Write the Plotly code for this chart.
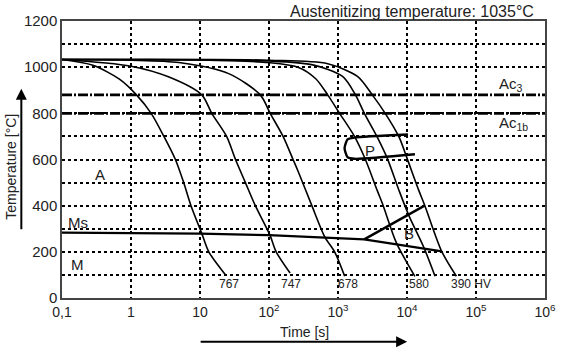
import numpy as np
import plotly.graph_objects as go

# ---- data ----
c767_t = [0.1, 0.28, 0.68, 1.2, 1.96, 3.0, 4.4, 5.8, 7.4, 10.6, 13.4, 23.5]
c767_T = [1033, 1008, 948, 880, 800, 700, 600, 500, 400, 280, 200, 100]

c747_t = [0.1, 1.0, 3.56, 10.6, 14.8, 24.3, 32.7, 45.5, 63.4, 104, 127, 202]
c747_T = [1033, 1004, 957, 880, 800, 700, 600, 500, 400, 270, 200, 108]

c678_t = [0.1, 1.0, 4.95, 26, 74.8, 104, 160, 223, 263, 418, 642, 893, 1250]
c678_T = [1033, 1030, 1020, 972, 880, 800, 700, 600, 550, 400, 265, 200, 94]

c580_t = [0.1, 10, 100, 263, 476, 709, 1055, 1733, 2495, 3710, 4520, 7000, 13000]
c580_T = [1033, 1031, 1020, 1000, 950, 880, 800, 700, 600, 465, 400, 240, 94]

c5_t = [0.1, 10, 100, 431, 1164, 1791, 2410, 3706, 5164, 7680, 10690, 17550, 25500]
c5_T = [1033, 1031, 1027, 1010, 960, 880, 800, 697, 606, 465, 356, 219, 94]

c390_t = [0.1, 100, 709, 1915, 3140, 4830, 7680, 10000, 14860, 18150, 31840, 52000]
c390_T = [1033, 1030, 1015, 960, 880, 800, 697, 606, 465, 400, 202, 94]

ms_t = [0.1, 10, 100, 1000, 2400]
ms_T = [283, 279, 272, 261, 254]

b_low_t = [2400, 32000]
b_low_T = [254, 202]
b_up_t = [2400, 18000]
b_up_T = [254, 400]

p_t = [10330, 1733, 1374, 1245, 1374, 1733, 13030]
p_T = [708, 695, 687, 649, 610, 603, 623]

ac3_T = 880
ac1b_T = 800
t_range = [0.1, 1e6]

x_tickvals = [0.1, 1, 10, 100, 1e3, 1e4, 1e5, 1e6]
x_ticktext = ["0,1", "1", "10", "10<sup>2</sup>", "10<sup>3</sup>",
              "10<sup>4</sup>", "10<sup>5</sup>", "10<sup>6</sup>"]
y_tickvals = list(range(0, 1201, 200))
y_minor_vals = [100, 300, 500, 700, 1100]

curve_labels = ["767", "747", "678", "580", "390 HV"]
curve_label_t = [26, 208, 1374, 14860, 85900]
curve_label_T = [62, 62, 62, 62, 62]

region_labels = ["A", "Ms", "M", "P", "B"]
region_t = [0.35, 0.17, 0.17, 2940, 10800]
region_T = [537, 327, 143, 640, 280]

FONT = "Arial, Liberation Sans, sans-serif"
TXT = "#222222"

fig = go.Figure()

for t, T in [(c767_t, c767_T), (c747_t, c747_T), (c678_t, c678_T),
             (c580_t, c580_T), (c5_t, c5_T), (c390_t, c390_T)]:
    fig.add_trace(go.Scatter(x=t, y=T, mode="lines",
                             line=dict(color="black", width=1.6, shape="spline", smoothing=0.8),
                             showlegend=False, hoverinfo="skip"))

for T in (ac3_T, ac1b_T):
    fig.add_trace(go.Scatter(x=t_range, y=[T, T], mode="lines",
                             line=dict(color="black", width=2.6, dash="10px,2px,2px,2px"),
                             showlegend=False))

fig.add_trace(go.Scatter(x=ms_t, y=ms_T, mode="lines",
                         line=dict(color="black", width=2.2), showlegend=False))
fig.add_trace(go.Scatter(x=b_low_t, y=b_low_T, mode="lines",
                         line=dict(color="black", width=2.4), showlegend=False))
fig.add_trace(go.Scatter(x=b_up_t, y=b_up_T, mode="lines",
                         line=dict(color="black", width=2.4), showlegend=False))
fig.add_trace(go.Scatter(x=p_t, y=p_T, mode="lines",
                         line=dict(color="black", width=2.4, shape="spline", smoothing=0.6),
                         showlegend=False))

annotations = []
for lab, t, T in zip(curve_labels, curve_label_t, curve_label_T):
    annotations.append(dict(x=np.log10(t), y=T, text=lab, showarrow=False,
                            font=dict(size=12, color=TXT, family=FONT)))
for lab, t, T in zip(region_labels, region_t, region_T):
    annotations.append(dict(x=np.log10(t), y=T, text=lab, showarrow=False,
                            font=dict(size=15, color=TXT, family=FONT)))
annotations.append(dict(x=np.log10(323000), y=923, text="Ac<sub>3</sub>", showarrow=False,
                        font=dict(size=15, color=TXT, family=FONT)))
annotations.append(dict(x=np.log10(345000), y=757, text="Ac<sub>1b</sub>", showarrow=False,
                        font=dict(size=15, color=TXT, family=FONT)))

# title
annotations.append(dict(xref="paper", yref="paper", x=0.9815, y=1.034, xanchor="right",
                        yanchor="middle", text="Austenitizing temperature: 1035°C",
                        showarrow=False, font=dict(size=16, color=TXT, family=FONT)))
# axis titles
annotations.append(dict(xref="paper", yref="paper", x=-0.105, y=0.475, textangle=-90,
                        xanchor="center", yanchor="middle",
                        text="Temperature [°C]", showarrow=False,
                        font=dict(size=14, color=TXT, family=FONT)))
annotations.append(dict(xref="paper", yref="paper", x=0.503, y=-0.122,
                        xanchor="center", yanchor="middle",
                        text="Time [s]", showarrow=False,
                        font=dict(size=14, color=TXT, family=FONT)))
# arrows
annotations.append(dict(xref="paper", yref="paper", x=-0.0842, y=0.755, ax=0, ay=142,
                        text="", showarrow=True, arrowhead=2, arrowsize=1.1,
                        arrowwidth=2, arrowcolor="black"))
annotations.append(dict(xref="paper", yref="paper", x=0.7146, y=-0.1577, ax=-208, ay=0,
                        text="", showarrow=True, arrowhead=2, arrowsize=1.1,
                        arrowwidth=2, arrowcolor="black"))

fig.update_layout(
    width=568, height=355,
    margin=dict(l=62, r=19, t=19, b=57),
    plot_bgcolor="white", paper_bgcolor="white",
    font=dict(family=FONT, size=14, color=TXT),
    annotations=annotations,
    showlegend=False,
)
fig.update_xaxes(type="log", range=[-1, 6], tickvals=x_tickvals, ticktext=x_ticktext,
                 showgrid=True, gridcolor="black", griddash="dot", gridwidth=1.6,
                 showline=True, linecolor="#444", linewidth=1.5, mirror=True,
                 ticks="", zeroline=False, tickfont=dict(size=14, color=TXT))
fig.update_yaxes(range=[0, 1200], tickvals=y_tickvals,
                 showgrid=True, gridcolor="black", griddash="dot", gridwidth=1.5,
                 minor=dict(tickvals=y_minor_vals, showgrid=True, gridcolor="black",
                            griddash="dot", gridwidth=1.5, ticks=""),
                 showline=True, linecolor="#444", linewidth=1.5, mirror=True,
                 ticks="", zeroline=False, tickfont=dict(size=15, color=TXT))

fig.write_html("out.html", config={"displayModeBar": False},
               post_script="document.body.style.margin='0';")
